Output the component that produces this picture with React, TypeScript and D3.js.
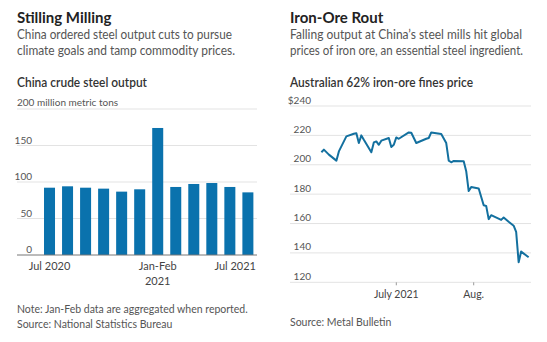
import React from 'react';
import * as d3 from 'd3';

// ---------- Left chart data ----------
const months = ['2020-07','2020-08','2020-09','2020-10','2020-11','2020-12','2021-01/02','2021-03','2021-04','2021-05','2021-06','2021-07'];
const steelOutput = [92.2, 94.1, 92.2, 90.9, 86.8, 90.0, 174.0, 93.2, 97.3, 98.6, 93.2, 85.8];
const steelTicks = [0, 50, 100, 150, 200];
const steelXLabelMonths = ['2020-07', '2021-01/02', '2021-07'];
const steelXLabels = [['Jul 2020'], ['Jan-Feb', '2021'], ['Jul 2021']];

// ---------- Right chart data ----------
const priceDates = [
  '2021-06-01','2021-06-02','2021-06-04','2021-06-07','2021-06-08','2021-06-09','2021-06-11','2021-06-14','2021-06-15','2021-06-16',
  '2021-06-17','2021-06-18','2021-06-21','2021-06-22','2021-06-23','2021-06-24','2021-06-25','2021-06-28','2021-06-29','2021-06-30',
  '2021-07-01','2021-07-02','2021-07-06','2021-07-07','2021-07-09','2021-07-13','2021-07-14','2021-07-15','2021-07-19','2021-07-21',
  '2021-07-22','2021-07-23','2021-07-24','2021-07-28','2021-07-29','2021-07-30','2021-07-31','2021-08-03','2021-08-05','2021-08-06',
  '2021-08-07','2021-08-08','2021-08-12','2021-08-13','2021-08-15','2021-08-17','2021-08-18','2021-08-19','2021-08-20','2021-08-23'
];
const priceValues = [
  208.5, 210.3, 206.9, 202.8, 209.1, 212.5, 219.3, 221.1, 221.5, 214.8,
  220.0, 217.0, 208.5, 215.2, 215.9, 213.6, 216.4, 218.2, 212.1, 213.6,
  218.6, 217.7, 222.0, 221.8, 214.8, 217.7, 218.2, 222.0, 220.9, 214.8,
  202.8, 201.7, 202.6, 202.4, 195.6, 182.1, 184.8, 183.9, 172.4, 172.0,
  163.0, 165.7, 162.5, 164.1, 161.2, 158.5, 154.4, 133.7, 140.9, 137.0
];
const priceTicks = [120, 140, 160, 180, 200, 220, 240];
const priceXTickDates = ['2021-07-01', '2021-08-01'];
const priceXTickLabels = ['July 2021', 'Aug.'];

const FONT = 'Lato, "Noto Sans", sans-serif';
const BLUE = '#0a72ad';
const GRID = '#e3e3e3';

export default function App() {
  // Left scales
  const xBand = d3.scaleBand<string>().domain(months).range([40.5, 256.9]).paddingInner(0.39).paddingOuter(0.195);
  const yLeft = d3.scaleLinear().domain([0, 200]).range([255, 109]);

  // Right scales
  const parse = d3.timeParse('%Y-%m-%d');
  const xTime = d3.scaleTime()
    .domain([parse('2021-07-01') as Date, parse('2021-08-01') as Date])
    .range([396.3, 473.7]);
  const yRight = d3.scaleLinear().domain([120, 240]).range([282.3, 106]);
  const pts: [number, number][] = priceDates.map((d, i) => [xTime(parse(d) as Date), yRight(priceValues[i])]);
  const linePath = d3.line().curve(d3.curveLinear)(pts) || '';

  return (
    <svg width={547} height={342} style={{ position: 'absolute', left: 0, top: 0, background: '#fff' }} fontFamily={FONT}>
      {/* ---------- LEFT ---------- */}
      <text x={17} y={23} fontSize={15} fontWeight={700} fill="#222">Stilling Milling</text>
      <text x={17} y={39} fontSize={12.5} fill="#555" textLength={215} lengthAdjust="spacingAndGlyphs">China ordered steel output cuts to pursue</text>
      <text x={17} y={55} fontSize={12.5} fill="#555" textLength={218} lengthAdjust="spacingAndGlyphs">climate goals and tamp commodity prices.</text>
      <text x={17} y={87} fontSize={13} fontWeight={600} fill="#333" textLength={130} lengthAdjust="spacingAndGlyphs">China crude steel output</text>

      {steelTicks.map((t) => (
        <g key={'lg' + t}>
          {t !== 0 && <line x1={17} x2={257} y1={yLeft(t)} y2={yLeft(t)} stroke={GRID} strokeWidth={1} />}
          {t === 200 ? (
            <text x={17} y={yLeft(t) - 3} fontSize={10} fill="#555">200 million metric tons</text>
          ) : (
            <text x={32} y={yLeft(t) - 2} fontSize={10} fill="#555" textAnchor="end">{t}</text>
          )}
        </g>
      ))}

      {months.map((m, i) => (
        <rect key={m} x={xBand(m)} y={yLeft(steelOutput[i])} width={xBand.bandwidth()} height={yLeft(0) - yLeft(steelOutput[i])} fill={BLUE} />
      ))}
      <line x1={17} x2={257} y1={yLeft(0)} y2={yLeft(0)} stroke="#777" strokeWidth={1} />

      {steelXLabelMonths.map((m, i) => {
        const cx = (xBand(m) as number) + xBand.bandwidth() / 2;
        const last = i === steelXLabelMonths.length - 1;
        return (
          <text key={m} x={last ? 256 : cx} y={270} fontSize={11} fill="#444" textAnchor={last ? 'end' : 'middle'}>
            {steelXLabels[i].map((l, j) => (
              <tspan key={j} x={last ? 256 : cx} dy={j === 0 ? 0 : 15}>{l}</tspan>
            ))}
          </text>
        );
      })}

      <text x={17} y={313} fontSize={10.5} fill="#555">Note: Jan-Feb data are aggregated when reported.</text>
      <text x={17} y={328} fontSize={10.5} fill="#555">Source: National Statistics Bureau</text>

      {/* ---------- RIGHT ---------- */}
      <text x={290} y={23} fontSize={15} fontWeight={700} fill="#222">Iron-Ore Rout</text>
      <text x={290} y={39} fontSize={12.5} fill="#555" textLength={232} lengthAdjust="spacingAndGlyphs">Falling output at China’s steel mills hit global</text>
      <text x={290} y={55} fontSize={12.5} fill="#555" textLength={233} lengthAdjust="spacingAndGlyphs">prices of iron ore, an essential steel ingredient.</text>
      <text x={290} y={87} fontSize={13} fontWeight={600} fill="#333" textLength={183} lengthAdjust="spacingAndGlyphs">Australian 62% iron-ore fines price</text>

      {priceTicks.map((t) => (
        <g key={'rg' + t}>
          <line x1={290} x2={531} y1={yRight(t)} y2={yRight(t)} stroke={GRID} strokeWidth={1} />
          <text x={311} y={yRight(t) - 2.5} fontSize={10} fill="#555" textAnchor="end">{t === 240 ? '$240' : t}</text>
        </g>
      ))}
      {priceXTickDates.map((d, i) => {
        const x = xTime(parse(d) as Date);
        return (
          <g key={d}>
            <line x1={x} x2={x} y1={yRight(120)} y2={yRight(120) + 3} stroke="#999" strokeWidth={1} />
            <text x={x} y={298} fontSize={10.5} fill="#444" textAnchor="middle">{priceXTickLabels[i]}</text>
          </g>
        );
      })}
      <path d={linePath} fill="none" stroke="#13709f" strokeWidth={2} strokeLinejoin="round" />

      <text x={290} y={326} fontSize={10.5} fill="#555">Source: Metal Bulletin</text>
    </svg>
  );
}
